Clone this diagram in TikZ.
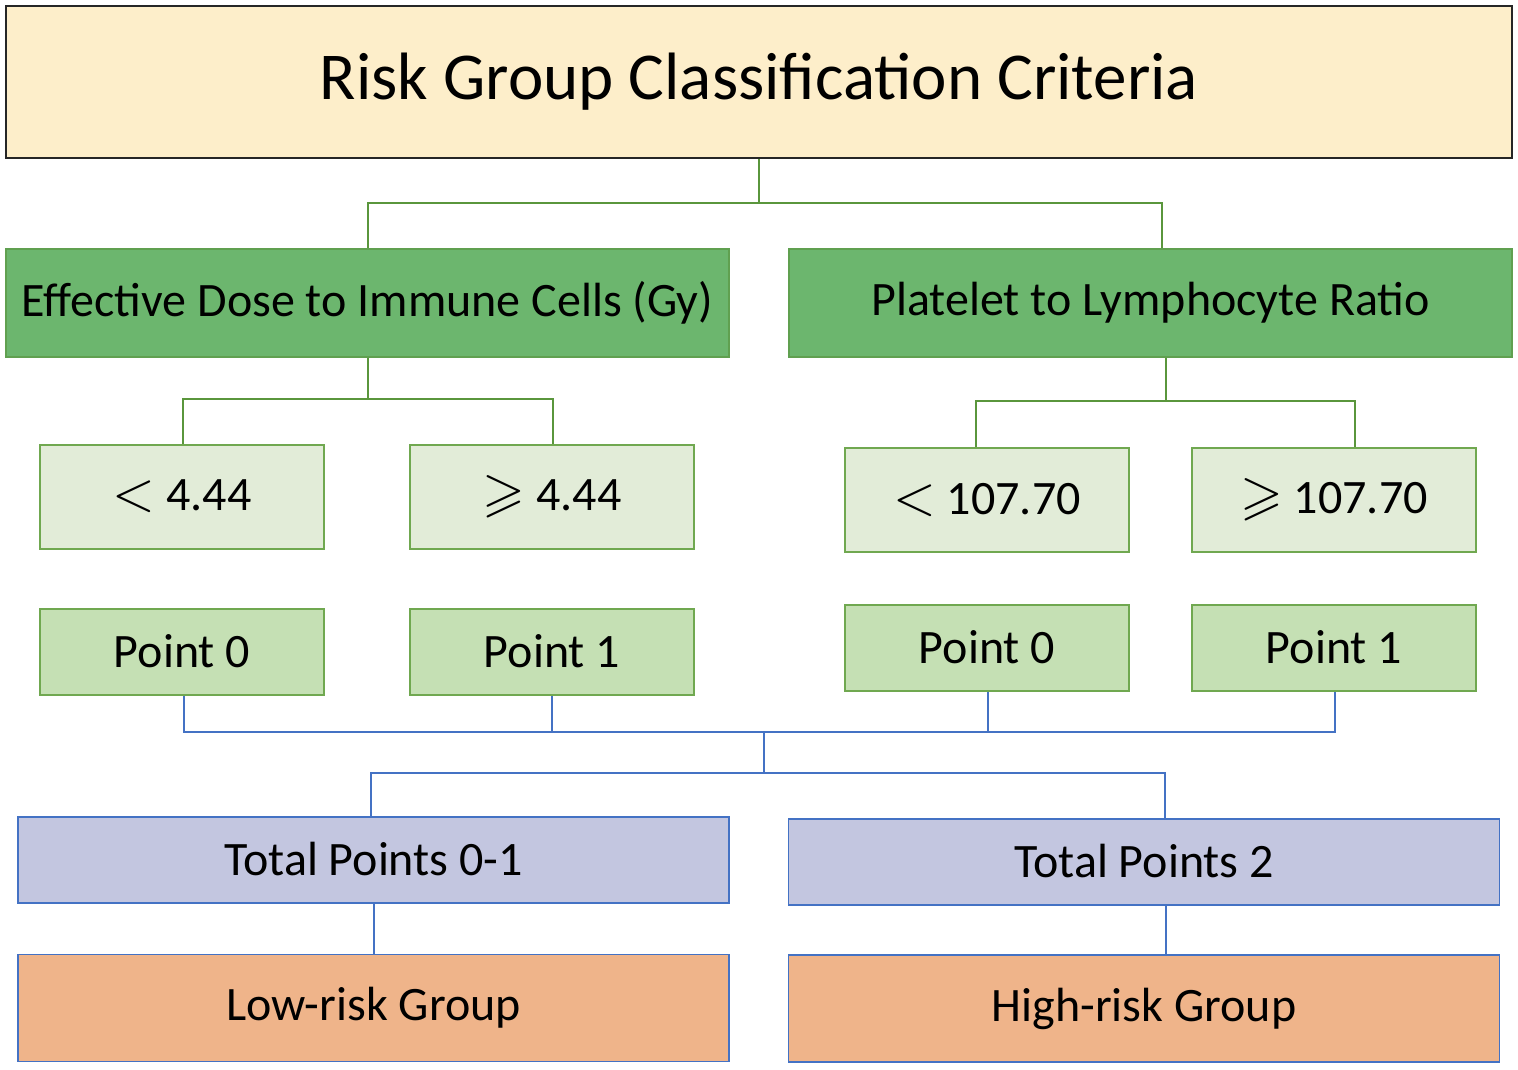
\documentclass[tikz,border=0pt]{standalone}
\usepackage{amssymb}
\usepackage{fontspec}
\setmainfont{Carlito}
\newcommand{\bigsym}[1]{\scalebox{5.5}{\fontsize{10}{12}\selectfont$#1$}}
\definecolor{cream}{RGB}{253,238,202}
\definecolor{hdrgreen}{RGB}{108,182,110}
\definecolor{hdrborder}{RGB}{96,160,80}
\definecolor{palegreen}{RGB}{226,236,216}
\definecolor{midgreen}{RGB}{197,224,180}
\definecolor{gborder}{RGB}{112,168,80}
\definecolor{gline}{RGB}{90,150,60}
\definecolor{lav}{RGB}{195,198,224}
\definecolor{peach}{RGB}{239,180,138}
\definecolor{bline}{RGB}{68,114,196}
\tikzset{
  box/.style={draw, rectangle, inner sep=0pt, line width=1.8pt, align=center},
  title/.style={box, fill=cream, draw=black!85, minimum width=1506pt, minimum height=152pt, font=\fontsize{67}{72}\selectfont},
  hdr/.style={box, fill=hdrgreen, draw=hdrborder, minimum width=723pt, minimum height=108pt, font=\fontsize{48}{52}\selectfont},
  thr/.style={box, fill=palegreen, draw=gborder, minimum width=284pt, minimum height=104pt, font=\fontsize{48}{52}\selectfont},
  pt/.style={box, fill=midgreen, draw=gborder, minimum width=284pt, minimum height=86pt, font=\fontsize{48}{52}\selectfont},
  tot/.style={box, fill=lav, draw=bline, minimum width=711pt, minimum height=86pt, font=\fontsize{48}{52}\selectfont},
  grp/.style={box, fill=peach, draw=bline, minimum width=711pt, minimum height=107pt, font=\fontsize{48}{52}\selectfont},
  gconn/.style={draw=gline, line width=1.8pt},
  bconn/.style={draw=bline, line width=1.8pt},
}
\begin{document}
\begin{tikzpicture}[x=1pt,y=-1pt]
\useasboundingbox (0,0) rectangle (1518,1070);
\node[title] (T) at (759,82) {\raisebox{-2pt}{Risk Group Classification Criteria}};
\node[hdr] (H1) at (367.5,303) {\raisebox{3pt}{Effective Dose to Immune Cells (Gy)}};
\node[hdr] (H2) at (1150.5,303) {\raisebox{3pt}{Platelet to Lymphocyte Ratio}};
\node[thr] (A1) at (182,497) {\raisebox{3pt}{\bigsym{<} 4.44}};
\node[thr] (A2) at (552,497) {\raisebox{3pt}{\bigsym{\geqslant} 4.44}};
\node[thr] (B1) at (987,500) {\raisebox{3pt}{\bigsym{<} 107.70}};
\node[thr] (B2) at (1334,500) {\raisebox{3pt}{\bigsym{\geqslant} 107.70}};
\node[pt] (P1) at (182,652) {\raisebox{2pt}{Point 0}};
\node[pt] (P2) at (552,652) {\raisebox{2pt}{Point 1}};
\node[pt] (P3) at (987,648) {\raisebox{2pt}{Point 0}};
\node[pt] (P4) at (1334,648) {\raisebox{2pt}{Point 1}};
\node[tot] (S1) at (373.5,860) {\raisebox{3pt}{Total Points 0-1}};
\node[tot] (S2) at (1144,862) {\raisebox{3pt}{Total Points 2}};
\node[grp] (G1) at (373.5,1008) {\raisebox{3pt}{Low-risk Group}};
\node[grp] (G2) at (1144,1008.5) {\raisebox{3pt}{High-risk Group}};
% green connectors
\coordinate (j1) at (759,203);
\draw[gconn] (T.south) -- (j1);
\draw[gconn] (j1) -| ([xshift=0.5pt]H1.north);
\draw[gconn] (j1) -| ([xshift=11.5pt]H2.north);
\coordinate (j2) at (368,399);
\draw[gconn] ([xshift=0.5pt]H1.south) -- (j2);
\draw[gconn] (j2) -| ([xshift=1pt]A1.north);
\draw[gconn] (j2) -| ([xshift=1pt]A2.north);
\coordinate (j3) at (1166,401);
\draw[gconn] ([xshift=15.5pt]H2.south) -- (j3);
\draw[gconn] (j3) -| ([xshift=-11pt]B1.north);
\draw[gconn] (j3) -| ([xshift=21pt]B2.north);
% blue connectors
\coordinate (k1) at (764,732);
\draw[bconn] ([xshift=2pt]P1.south) |- (k1);
\draw[bconn] (P2.south) -- (P2.south |- k1);
\draw[bconn] ([xshift=1pt]P3.south) -- ([xshift=1pt]P3.south |- k1);
\draw[bconn] ([xshift=1pt]P4.south) |- (k1);
\coordinate (k2) at (764,773);
\draw[bconn] (k1) -- (k2);
\draw[bconn] (k2) -| ([xshift=-2.5pt]S1.north);
\draw[bconn] (k2) -| ([xshift=21pt]S2.north);
\draw[bconn] ([xshift=0.5pt]S1.south) -- ([xshift=0.5pt]G1.north);
\draw[bconn] ([xshift=22pt]S2.south) -- ([xshift=22pt]G2.north);
\end{tikzpicture}
\end{document}
